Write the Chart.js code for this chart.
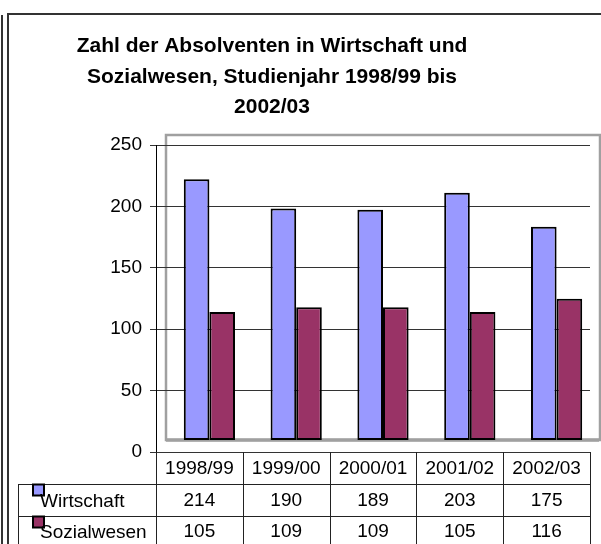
<!DOCTYPE html>
<html>
<head>
<meta charset="utf-8">
<script src="https://cdn.jsdelivr.net/npm/chart.js@4/dist/chart.umd.min.js"></script>
<style>
    body { margin: 0; background: #fff; }
    #wrap { width: 601px; height: 544px; }
</style>
</head>
<body>
<div id="wrap"><canvas id="barChart" width="601" height="544"></canvas></div>
<script>
// chart data
const categories = ['1998/99', '1999/00', '2000/01', '2001/02', '2002/03'];
const wirtschaft = [214, 190, 189, 203, 175];
const sozialwesen = [105, 109, 109, 105, 116];
const seriesNames = ['Wirtschaft', 'Sozialwesen'];
const seriesColors = ['#9999ff', '#993366'];
const yMax = 250;
const yStep = 50;
const titleLines = [
    'Zahl der Absolventen in Wirtschaft und',
    'Sozialwesen, Studienjahr 1998/99 bis',
    '2002/03'
];

const FONT = '"Liberation Sans", Arial, sans-serif';
const DEPTH_X = 10;   // 3D offset of the back wall
const DEPTH_Y = 12;

// frame, title and back wall (drawn before the grid)
const backdrop = {
    id: 'backdrop',
    beforeDraw(chart) {
        const ctx = chart.ctx;
        const a = chart.chartArea;
        ctx.save();
        // outer frame
        ctx.strokeStyle = '#333';
        ctx.lineWidth = 2;
        ctx.beginPath();
        ctx.moveTo(8, 544);
        ctx.lineTo(8, 14);
        ctx.lineTo(601, 14);
        ctx.moveTo(2, 15);
        ctx.lineTo(2, 544);
        ctx.stroke();

        // title
        ctx.fillStyle = '#000';
        ctx.font = 'bold 21px ' + FONT;
        ctx.textAlign = 'center';
        ctx.textBaseline = 'alphabetic';
        titleLines.forEach((t, i) => ctx.fillText(t, 272, 52 + i * 30.7));

        // back wall
        ctx.strokeStyle = '#a0a0a0';
        ctx.lineWidth = 2.5;
        ctx.strokeRect(a.left + DEPTH_X, a.top - 10, a.right - a.left + 0, a.bottom - a.top - 2);
        ctx.lineWidth = 3.5;
        ctx.beginPath();
        ctx.moveTo(a.left + DEPTH_X, a.bottom - DEPTH_Y);
        ctx.lineTo(a.right + DEPTH_X - 1, a.bottom - DEPTH_Y);
        ctx.stroke();
        ctx.restore();
    },
    beforeDatasetsDraw(chart) {
        chart.ctx.save();
        chart.ctx.translate(DEPTH_X, 0);
    },
    afterDatasetsDraw(chart) {
        chart.ctx.restore();
    }
};

// data table under the plot
const dataTable = {
    id: 'dataTable',
    afterDraw(chart) {
        const ctx = chart.ctx;
        const a = chart.chartArea;
        const xs = chart.scales.x;
        const colW = (a.right - a.left) / categories.length;
        const top = a.bottom;
        const row1 = top + 31.5;
        const row2 = top + 63.5;
        const left = 18;
        ctx.save();
        ctx.strokeStyle = '#222';
        ctx.lineWidth = 1;
        ctx.beginPath();
        for (let i = 0; i <= categories.length; i++) {
            const x = Math.round(a.left + i * colW) + 0.5;
            ctx.moveTo(x, top);
            ctx.lineTo(x, 544);
        }
        [row1, row2].forEach(y => {
            ctx.moveTo(left, Math.round(y) + 0.5);
            ctx.lineTo(a.right, Math.round(y) + 0.5);
        });
        ctx.moveTo(left + 0.5, Math.round(row1));
        ctx.lineTo(left + 0.5, 544);
        ctx.stroke();

        ctx.fillStyle = '#000';
        ctx.font = '19px ' + FONT;
        ctx.textAlign = 'center';
        ctx.textBaseline = 'alphabetic';
        categories.forEach((c, i) => {
            const x = xs.getPixelForTick(i);
            ctx.fillText(c, x, top + 21.5);
            ctx.fillText(String(wirtschaft[i]), x, row1 + 22.5);
            ctx.fillText(String(sozialwesen[i]), x, row2 + 21.5);
        });

        // legend keys + names
        ctx.textAlign = 'left';
        [row1, row2].forEach((y, i) => {
            ctx.fillStyle = seriesColors[i];
            ctx.fillRect(33, y + 1, 11, 11);
            ctx.strokeStyle = '#000';
            ctx.lineWidth = 2;
            ctx.strokeRect(33, y + 1, 11, 11);
            ctx.fillStyle = '#000';
            ctx.fillText(seriesNames[i], 40, y + (i === 0 ? 23.5 : 22.5));
        });
        ctx.restore();
    }
};

const ctx = document.getElementById('barChart').getContext('2d');
new Chart(ctx, {
    type: 'bar',
    data: {
        labels: categories,
        datasets: [{
            label: seriesNames[0],
            data: wirtschaft,
            backgroundColor: seriesColors[0],
            borderColor: '#000',
            borderWidth: 2,
            borderSkipped: false,
            yAxisID: 'yBars'
        }, {
            label: seriesNames[1],
            data: sozialwesen,
            backgroundColor: seriesColors[1],
            borderColor: '#000',
            borderWidth: 2,
            borderSkipped: false,
            yAxisID: 'yBars'
        }]
    },
    options: {
        responsive: false,
        animation: false,
        layout: {
            padding: { top: 145, bottom: 92, left: 0, right: 11 }
        },
        plugins: {
            legend: { display: false },
            title: { display: false },
            tooltip: { enabled: false }
        },
        datasets: {
            bar: { categoryPercentage: 0.59, barPercentage: 1 }
        },
        scales: {
            x: {
                display: false
            },
            y: {
                min: 0,
                max: yMax,
                afterFit(scale) { scale.width = 156; },
                ticks: {
                    stepSize: yStep,
                    color: '#000',
                    padding: 8,
                    font: { family: FONT, size: 19 }
                },
                grid: {
                    color: '#333',
                    lineWidth: 1,
                    tickLength: 6
                },
                border: { color: '#000', width: 1 }
            },
            yBars: {
                display: false,
                min: -DEPTH_Y / 1.218,
                max: -DEPTH_Y / 1.218 + 252
            }
        }
    },
    plugins: [backdrop, dataTable]
});
</script>
</body>
</html>
